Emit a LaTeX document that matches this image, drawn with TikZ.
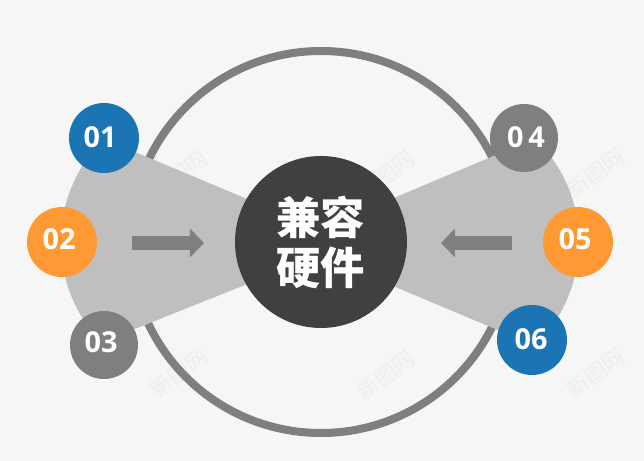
\documentclass[tikz,border=0pt]{standalone}
\usepackage{fontspec}
\usepackage{xcolor}
\usepackage{tikz}
\usetikzlibrary{calc,arrows.meta}
\setmainfont{Open Sans}
\newfontfamily\cjkfont{Noto Sans CJK SC}
\definecolor{bg}{HTML}{F6F6F6}
\definecolor{fanfill}{HTML}{BFBFBF}
\definecolor{greyc}{HTML}{7F7F7F}
\definecolor{darkc}{HTML}{404040}
\definecolor{bluec}{HTML}{1B75B4}
\definecolor{orangec}{HTML}{FF9933}
\definecolor{markc}{HTML}{EEEEEE}
\tikzset{
  ring/.style={draw=greyc, line width=0.2cm},
  fan/.style={fill=fanfill},
  hub/.style={circle, fill=darkc, minimum size=4.3cm, inner sep=0pt, text=white, align=center,
    font=\cjkfont\bfseries\fontsize{31.5}{35.5}\selectfont},
  dot/.style={circle, inner sep=0pt, minimum size=1.75cm},
  num/.style={text=white, inner sep=0pt, font=\bfseries\fontsize{20.5}{24}\selectfont},
  flow/.style={draw=greyc, line width=0.35cm, -{Triangle[length=0.35cm,width=0.7cm]}},
  wm/.style={text=markc, rotate=37, font=\cjkfont\fontsize{15.5}{18}\selectfont},
}
\begin{document}
\begin{tikzpicture}
  \fill[bg] (-8.025,-5.475) rectangle (8.075,6.05);
  % watermarks
  \node[wm] (w1) at (-3.55,1.675) {新图网};
  \node[wm] (w2) at (1.625,1.675) {新图网};
  \node[wm] (w3) at (6.875,1.725) {新图网};
  \node[wm] (w4) at (-3.55,-3.275) {新图网};
  \node[wm] (w5) at (1.625,-3.325) {新图网};
  \node[wm] (w6) at (6.875,-3.275) {新图网};
  % ring and the two fans
  \draw[ring] (0,0) circle (4.775);
  \fill[fan] (-1.275,0.835) -- (-5.425,2.575) arc[start angle=134.4, end angle=224.2, radius=3.6] -- (-1.275,-0.825) -- cycle;
  \fill[fan] (1.225,0.85) -- (5.35,2.5875) arc[start angle=46, end angle=-46, radius=3.6] -- (1.225,-0.86) -- cycle;
  % centre
  \node[hub] (hub) at (0,0) {兼容\\硬件};
  % arrows
  \coordinate (la) at (-4.725,-0.025);
  \coordinate (lb) at (-2.925,-0.025);
  \coordinate (ra) at (4.775,-0.025);
  \coordinate (rb) at (3.0,-0.025);
  \draw[flow] (la)--(lb);
  \draw[flow] (ra)--(rb);
  % numbered dots
  \node[dot, fill=bluec] (d1) at (-5.425,2.6) {};
  \node[dot, fill=orangec] (d2) at (-6.475,0) {};
  \node[dot, fill=greyc, minimum size=1.7cm] (d3) at (-5.425,-2.575) {};
  \node[dot, fill=greyc, minimum size=1.7cm] (d4) at (5.075,2.6) {};
  \node[dot, fill=orangec] (d5) at (6.425,0) {};
  \node[dot, fill=bluec] (d6) at (5.275,-2.45) {};
  \node[num] (n1) at ($(d1)+(-0.1,0.025)$) {01};
  \node[num] (n2) at ($(d2)+(-0.075,0.075)$) {02};
  \node[num] (n3) at ($(d3)+(-0.075,0.075)$) {03};
  \node[num] (n4) at ($(d4)+(0.05,0.025)$) {0\,4};
  \node[num] (n5) at ($(d5)+(-0.075,0.075)$) {05};
  \node[num] (n6) at ($(d6)+(-0.025,0.025)$) {06};
\end{tikzpicture}
\end{document}
